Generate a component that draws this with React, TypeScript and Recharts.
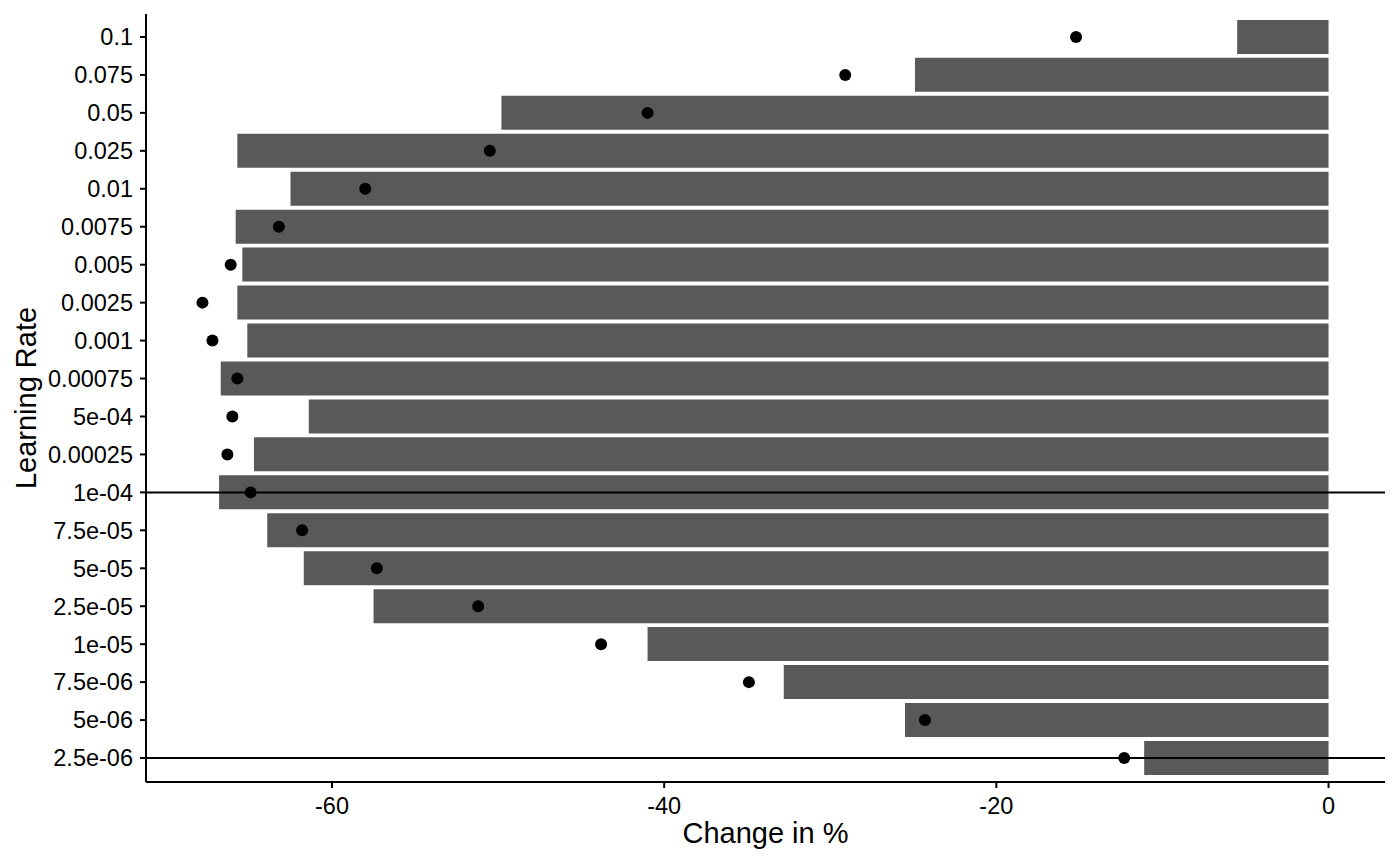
import React from 'react';
import { ComposedChart, Bar, Scatter, XAxis, YAxis, ReferenceLine } from 'recharts';

const learningRates = ['0.1', '0.075', '0.05', '0.025', '0.01', '0.0075', '0.005', '0.0025', '0.001', '0.00075', '5e-04', '0.00025', '1e-04', '7.5e-05', '5e-05', '2.5e-05', '1e-05', '7.5e-06', '5e-06', '2.5e-06'];
const barChange = [-5.5, -24.9, -49.8, -65.7, -62.5, -65.8, -65.4, -65.7, -65.1, -66.7, -61.4, -64.7, -66.8, -63.9, -61.7, -57.5, -41.0, -32.8, -25.5, -11.1];
const pointChange = [-15.2, -29.1, -41.0, -50.5, -58.0, -63.2, -66.1, -67.8, -67.2, -65.7, -66.0, -66.3, -64.9, -61.8, -57.3, -51.2, -43.8, -34.9, -24.3, -12.3];
const xTicks = [-60, -40, -20, 0];
const refLines = ['1e-04', '2.5e-06'];

const data = learningRates.map((lr, i) => ({ lr, bar: barChange[i], pt: pointChange[i] }));

const FONT = '"Liberation Sans", Arial, Helvetica, sans-serif';

const YTitle = (props: any) => {
  const vb = props.viewBox;
  const x = vb.x + 26;
  const y = vb.y + vb.height / 2;
  return (
    <text x={x} y={y} dy="0.355em" transform={`rotate(-90, ${x}, ${y})`} textAnchor="middle" fill="#000" fontSize={29} fontFamily={FONT}>
      Learning Rate
    </text>
  );
};

const XTitle = (props: any) => {
  const vb = props.viewBox;
  const x = vb.x + vb.width / 2;
  const y = vb.y + 51;
  return (
    <text x={x} y={y} dy="0.355em" textAnchor="middle" fill="#000" fontSize={29} fontFamily={FONT}>
      Change in %
    </text>
  );
};

const Dot = (props: any) => <circle cx={props.cx} cy={props.cy} r={6} fill="#000" />;

export default function App() {
  return (
    <div style={{ position: 'absolute', left: 0, top: 0, width: 1400, height: 865, background: '#fff', fontFamily: FONT }}>
      <ComposedChart
        width={1400}
        height={865}
        data={data}
        layout="vertical"
        margin={{ top: 14, right: 15, bottom: 0, left: 0 }}
        barCategoryGap="5%"
      >
        <XAxis
          type="number"
          domain={[-71.2, 3.4]}
          ticks={xTicks}
          allowDataOverflow
          height={83}
          tickSize={6}
          tickMargin={9}
          axisLine={{ stroke: '#000', strokeWidth: 2 }}
          tickLine={{ stroke: '#000', strokeWidth: 2 }}
          tick={{ fill: '#000', fontSize: 23.5, fontFamily: FONT }}
          label={{ content: XTitle }}
        />
        <YAxis
          type="category"
          dataKey="lr"
          width={146}
          padding={{ top: 4, bottom: 5 }}
          interval={0}
          tickSize={6}
          tickMargin={7}
          axisLine={{ stroke: '#000', strokeWidth: 2 }}
          tickLine={{ stroke: '#000', strokeWidth: 2 }}
          tick={{ fill: '#000', fontSize: 23.5, fontFamily: FONT }}
          label={{ content: YTitle }}
        />
        <Bar dataKey="bar" fill="#595959" isAnimationActive={false} />
        <Scatter dataKey="pt" fill="#000" shape={Dot} isAnimationActive={false} />
        {refLines.map((r) => (
          <ReferenceLine key={r} y={r} stroke="#000" strokeWidth={2} />
        ))}
      </ComposedChart>
    </div>
  );
}
